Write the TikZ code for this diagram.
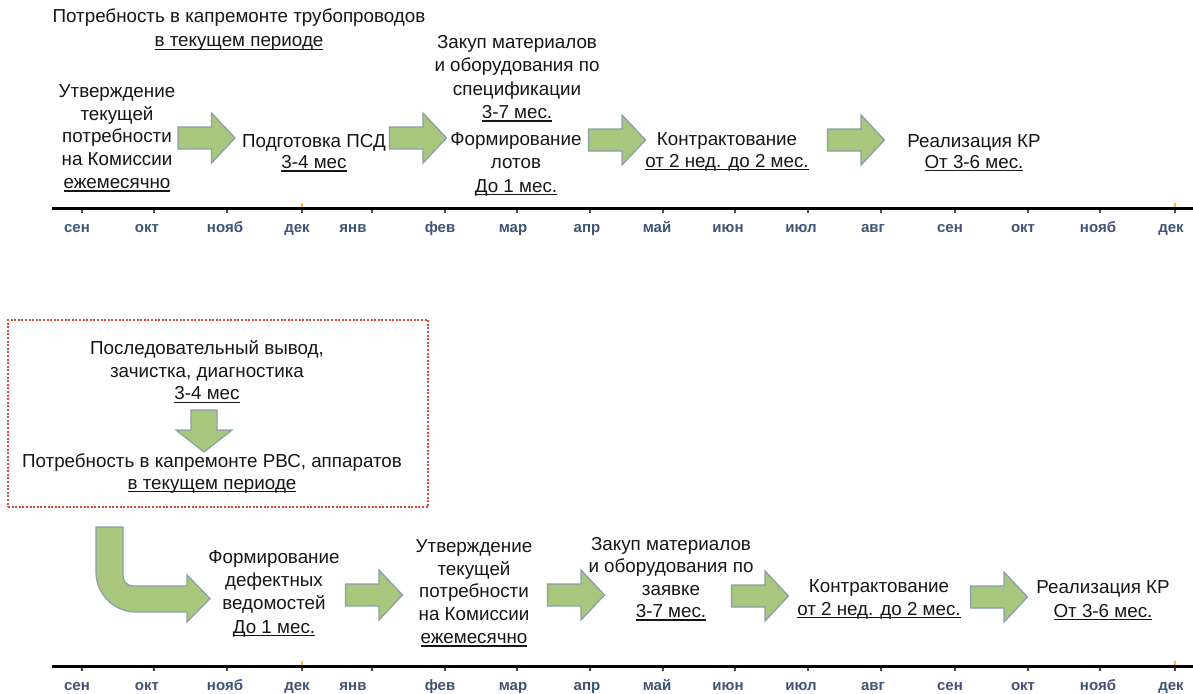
\documentclass[tikz,border=0pt]{standalone}
\usepackage{fontspec}
\setmainfont{Liberation Sans}
\definecolor{agreen}{HTML}{A8C67C}
\definecolor{aedge}{HTML}{8A9FAA}
\definecolor{mcol}{HTML}{3F5478}
\definecolor{dotred}{HTML}{DC4A3E}
\definecolor{txt}{HTML}{161616}
\definecolor{ymark}{HTML}{F0C030}
\newcommand\myul[1]{{\setbox0\hbox{#1}\rlap{\rule[-3pt]{\wd0}{1.3pt}}\box0}}
\tikzset{
  lbl/.style={align=center, text=txt, inner sep=0pt, font=\fontsize{18.8}{22.8}\selectfont},
  mon/.style={text=mcol, inner sep=0pt, anchor=base, font=\fontsize{15}{17}\selectfont\bfseries},
  blk/.style={fill=agreen, draw=aedge, line width=1.3pt, line join=miter},
  pics/rarr/.style={code={\path[blk] (-28.5,-11) -- (5,-11) -- (5,-25) -- (28.5,0) -- (5,25) -- (5,11) -- (-28.5,11) -- cycle;}},
  pics/darr/.style={code={\path[blk] (-13,-21) -- (13,-21) -- (13,-1) -- (28,-1) -- (0,21) -- (-28,-1) -- (-13,-1) -- cycle;}},
  tline/.style={line width=3pt, black},
  tickm/.style={line width=1.4pt, black!70},
  ytick/.style={line width=2pt, ymark},
  dotbox/.style={draw=dotred, line width=2.8pt, dash pattern=on 2pt off 1.6pt, inner sep=0pt},
}
\begin{document}
\begin{tikzpicture}[x=1pt,y=-1pt]
\useasboundingbox[fill=white] (0,0) rectangle (1193,693);

% ---------- top row ----------
\node[lbl, font=\fontsize{18.8}{24}\selectfont] (t0) at (239,30) {Потребность в капремонте трубопроводов\\\myul{в текущем периоде}};
\node[lbl] (t1) at (117,138) {Утверждение\\текущей\\потребности\\на Комиссии\\\myul{ежемесячно}};
\node[lbl, font=\fontsize{18.8}{21}\selectfont] (t2) at (314,153) {Подготовка ПСД\\\myul{3-4 мес}};
\node[lbl, font=\fontsize{18.8}{23.3}\selectfont] (t3a) at (517,78.5) {Закуп материалов\\и оборудования по\\спецификации\\\myul{3-7 мес.}};
\node[lbl, font=\fontsize{18.8}{23.5}\selectfont] (t3b) at (516,164) {Формирование\\лотов\\\myul{До 1 мес.}};
\node[lbl, font=\fontsize{18.8}{22}\selectfont] (t4) at (727,151.5) {Контрактование\\\myul{от 2 нед. до 2 мес.}};
\node[lbl, font=\fontsize{18.8}{21}\selectfont] (t5) at (974,153) {Реализация КР\\\myul{От 3-6 мес.}};

\pic (a1) at (206.5,138) {rarr};
\pic (a2) at (418,138) {rarr};
\pic (a3) at (617,140) {rarr};
\pic (a4) at (856,140) {rarr};

% ---------- top timeline ----------
\coordinate (tlA) at (52,208);
\coordinate (tlB) at (1193,208);
\draw[tline] (tlA) -- (tlB);
\foreach \x/\l/\t [count=\i] in {77/сен/82,147/окт/154,225/нояб/227,297/дек/302,353/янв/372,440/фев/445,513/мар/517,587/апр/590,657/май/663,728/июн/735,801/июл/808,873/авг/881,950/сен/955,1023/окт/1028,1098/нояб/1100,1171/дек/1175}{
  \node[mon] (mt\i) at (\x,232.5) {\l};
  \draw[tickm] (\t,209.5) -- (\t,212.5);
}
\draw[ytick] (302,203) -- (302,206.5);
\draw[ytick] (1175,203) -- (1175,206.5);

% ---------- bottom section ----------
\node[dotbox, minimum width=420pt, minimum height=187pt] (box) at (218,413.5) {};
\node[lbl, font=\fontsize{18.8}{22.5}\selectfont] (b0a) at (207,372) {Последовательный вывод,\\зачистка, диагностика\\\myul{3-4 мес}};
\pic (d1) at (204,431) {darr};
\node[lbl, font=\fontsize{18.8}{22}\selectfont] (b0b) at (212,473.5) {Потребность в капремонте РВС, аппаратов\\\myul{в текущем периоде}};

\path[blk] (96,527) -- (96,572) .. controls (96,594) and (114,612) .. (136,612) -- (187,612) -- (187,622) -- (210,598.5) -- (187,575) -- (187,586) -- (133,586) .. controls (127.5,586) and (123,581.5) .. (123,576) -- (123,527) -- cycle;

\node[lbl, font=\fontsize{18.8}{23.3}\selectfont] (b1) at (274,593.5) {Формирование\\дефектных\\ведомостей\\\myul{До 1 мес.}};
\node[lbl] (b2) at (474,593) {Утверждение\\текущей\\потребности\\на Комиссии\\\myul{ежемесячно}};
\node[lbl, font=\fontsize{18.8}{22.3}\selectfont] (b3) at (671,579) {Закуп материалов\\и оборудования по\\заявке\\\myul{3-7 мес.}};
\node[lbl, font=\fontsize{18.8}{23}\selectfont] (b4) at (879,599) {Контрактование\\\myul{от 2 нед. до 2 мес.}};
\node[lbl, font=\fontsize{18.8}{24}\selectfont] (b5) at (1103,600.5) {Реализация КР\\\myul{От 3-6 мес.}};

\pic (e1) at (374,595) {rarr};
\pic (e2) at (576,595) {rarr};
\pic (e3) at (760,596) {rarr};
\pic (e4) at (999,597) {rarr};

% ---------- bottom timeline ----------
\coordinate (blA) at (52,666);
\coordinate (blB) at (1193,666);
\draw[tline] (blA) -- (blB);
\foreach \x/\l/\t [count=\i] in {77/сен/82,147/окт/154,225/нояб/227,297/дек/302,353/янв/372,440/фев/445,513/мар/517,587/апр/590,657/май/663,728/июн/735,801/июл/808,873/авг/881,950/сен/955,1023/окт/1028,1098/нояб/1100,1171/дек/1175}{
  \node[mon] (mb\i) at (\x,690.5) {\l};
  \draw[tickm] (\t,667.5) -- (\t,670.5);
}
\draw[ytick] (302,661) -- (302,664.5);
\draw[ytick] (1175,661) -- (1175,664.5);
\end{tikzpicture}
\end{document}
